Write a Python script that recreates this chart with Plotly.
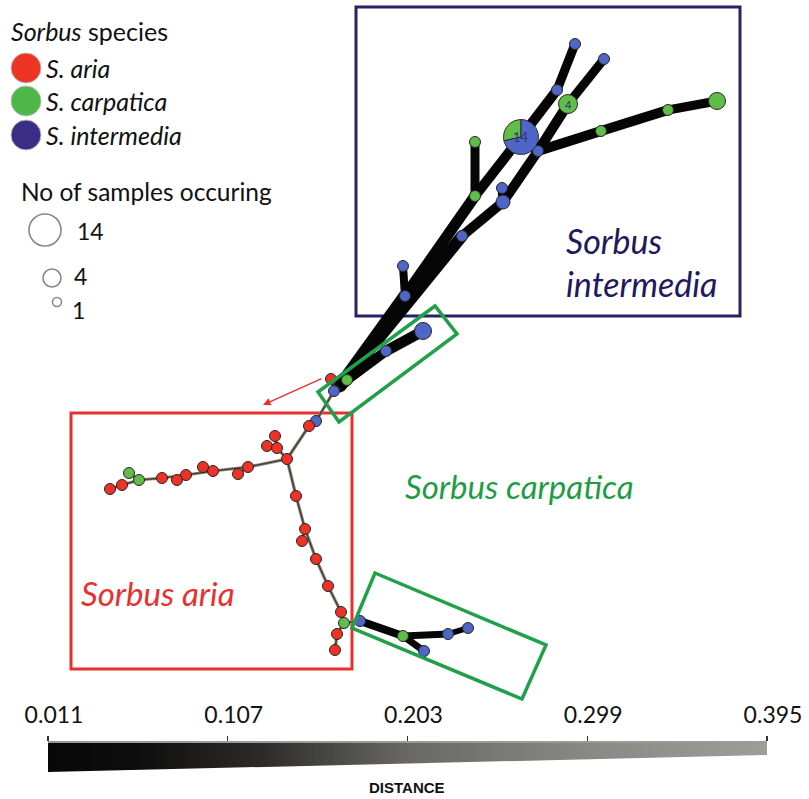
import plotly.graph_objects as go
import numpy as np

# ---------------- data ----------------
# network nodes: id, layout x, layout y (pixel layout of the network drawing), species, sample count
node_id = ["t1","t2","t3","t4","t5","t6","t7","pie","t8","t9","t10","t11","t12","t13","t14","t15",
           "g1","g2","g3","r0","b0","jt",
           "b1","a1","aj","a2","a3","a4",
           "a5","a6","a7","a8","a9","a10","a11","c1","c2","a12","a13",
           "a14","a15","a16","a17","a18","a19","c3","a20","a21",
           "b2","c4","b3","b4","b5"]
node_x = [575,604,557,568,717,668,601,521,538,475,475,502,503,462,403,405,
          423,386,347,331,334,340,
          316,309,287,275,267,277,
          248,238,213,203,186,177,162,139,129,122,110,
          296,305,302,316,328,341,344,337,335,
          360,403,448,468,424]
node_y = [44,59,90,104,101,110,131,137,151,142,196,188,202,236,266,296,
          331,351,380,379,391,386,
          421,426,459,436,446,448,
          467,474,471,467,475,480,478,480,473,485,489,
          496,529,541,559,586,612,623,634,650,
          621,636,634,628,651]
node_species = ["I","I","I","C","C","C","C","mix","I","C","C","I","I","I","I","I",
                "I","I","C","A","I","-",
                "I","A","A","A","A","A",
                "A","A","A","A","A","A","A","C","C","A","A",
                "A","A","A","A","A","A","C","A","A",
                "I","C","I","I","I"]
node_count = [1,1,1,4,3,1,1,14,1,1,1,1,2,1,1,1,
              3,1,1,1,1,0,
              1,1,1,1,1,1,
              1,1,1,1,1,1,1,1,1,1,1,
              1,1,1,1,1,1,1,1,1,
              1,1,1,1,1]
pie_values = [4, 10]           # S. carpatica, S. intermedia in the 14-sample haplotype
pie_species = ["C", "I"]

# edges: (from, to, width)
thick_edges = [("jt","t15",13),("t15","t10",11),("t10","pie",10),
               ("jt","t13",12),("t13","t12",10),("t12","t11",9),("t12","t8",10),("pie","t8",10),
               ("pie","t3",10),("t3","t1",9),
               ("t8","t4",10),("t4","t2",9),
               ("t8","t7",10),("t7","t6",10),("t6","t5",9),
               ("t9","t10",9),("t14","t15",8),
               ("g3","g2",10),("g2","g1",11),("jt","g3",11),
               ("b2","c4",8),("c4","b3",7),("b3","b4",6),("c4","b5",7)]
thin_edges = [("r0","b0"),("b0","b1"),("b1","a1"),("a1","aj"),
              ("aj","a4"),("a4","a3"),("a4","a2"),
              ("aj","a5"),("a5","a7"),("a7","a9"),("a9","a11"),("a11","c1"),("c1","a12"),("a12","a13"),
              ("a5","a6"),("a7","a8"),("a9","a10"),("c1","c2"),
              ("aj","a14"),("a14","a15"),("a15","a17"),("a17","a18"),("a18","a19"),("a19","c3"),
              ("c3","a20"),("a20","a21"),("a15","a16"),("c3","b2")]

species_names = ["S. aria", "S. carpatica", "S. intermedia"]
size_legend_counts = [14, 4, 1]

dist_ticks = [0.011, 0.107, 0.203, 0.299, 0.395]

# ---------------- styles ----------------
W, H = 809, 799
COL = {"A": "#EC3326", "C": "#5FBE48", "I": "#4E66C6"}
LEG_COL = ["#EE3524", "#4DB848", "#3B2C85"]
DIAM = {1: 11, 2: 14, 3: 17, 4: 19, 14: 35}
NAVY = "#22185E"
GREEN_T = "#1F9C45"
RED_T = "#E8302E"
FONT = "Lato, Open Sans, sans-serif"

pos = {n: (x, y) for n, x, y in zip(node_id, node_x, node_y)}

fig = go.Figure()

# thin edges
ex, ey = [], []
for a, b in thin_edges:
    ex += [pos[a][0], pos[b][0], None]
    ey += [pos[a][1], pos[b][1], None]
fig.add_trace(go.Scatter(x=ex, y=ey, mode="lines", line=dict(color="#958c82", width=3.2),
                         hoverinfo="skip", showlegend=False))
fig.add_trace(go.Scatter(x=ex, y=ey, mode="lines", line=dict(color="#4a433c", width=1.6),
                         hoverinfo="skip", showlegend=False))

# thick edges grouped by width
for w in sorted(set(e[2] for e in thick_edges)):
    ex, ey = [], []
    for a, b, ww in thick_edges:
        if ww == w:
            ex += [pos[a][0], pos[b][0], None]
            ey += [pos[a][1], pos[b][1], None]
    fig.add_trace(go.Scatter(x=ex, y=ey, mode="lines", line=dict(color="#050505", width=w),
                             hoverinfo="skip", showlegend=False))
# round joints for thick edges
jx, jy, js = [], [], []
for a, b, w in thick_edges:
    for n in (a, b):
        jx.append(pos[n][0]); jy.append(pos[n][1]); js.append(w)
fig.add_trace(go.Scatter(x=jx, y=jy, mode="markers",
                         marker=dict(color="#050505", size=js, line=dict(width=0)),
                         hoverinfo="skip", showlegend=False))

# nodes
nx, ny, nc, ns = [], [], [], []
for n, x, y, s, c in zip(node_id, node_x, node_y, node_species, node_count):
    if s in COL:
        nx.append(x); ny.append(y); nc.append(COL[s]); ns.append(DIAM[c])
fig.add_trace(go.Scatter(x=nx, y=ny, mode="markers",
                         marker=dict(color=nc, size=ns, opacity=1, line=dict(color="#262626", width=1)),
                         hoverinfo="skip", showlegend=False))

# pie node (wedges drawn counterclockwise from 12 o'clock, sized by sample counts)
px_, py_ = pos["pie"]
r = DIAM[14] / 2
total = sum(pie_values)
start = 90.0
for v, sp in zip(pie_values, pie_species):
    sweep = 360.0 * v / total
    th = np.radians(np.linspace(start, start + sweep, 60))
    wx = [px_] + list(px_ + r * np.cos(th)) + [px_]
    wy = [py_] + list(py_ - r * np.sin(th)) + [py_]
    fig.add_trace(go.Scatter(x=wx, y=wy, mode="lines", fill="toself", fillcolor=COL[sp],
                             line=dict(color="#2a2a2a", width=1), hoverinfo="skip", showlegend=False))
    start += sweep

annotations = []
annotations.append(dict(x=px_, y=py_, text="14", showarrow=False, font=dict(size=13, color="#3B2C85", family=FONT)))
annotations.append(dict(x=pos["t4"][0], y=pos["t4"][1], text="4", showarrow=False,
                        font=dict(size=11, color="#3B2C85", family=FONT)))

LEGF = 25
# legend - species
annotations.append(dict(x=9, y=31, xanchor="left", yanchor="middle", showarrow=False,
                        text="<i>Sorbus</i> species", font=dict(size=LEGF, color="#111", family=FONT)))
leg_y = [68, 101, 135]
fig.add_trace(go.Scatter(x=[26, 26, 26], y=leg_y, mode="markers",
                         marker=dict(color=LEG_COL, size=30, line=dict(color="#bbbbbb", width=1)),
                         hoverinfo="skip", showlegend=False))
for nm, yy in zip(species_names, leg_y):
    annotations.append(dict(x=44, y=yy, xanchor="left", yanchor="middle", showarrow=False,
                            text="<i>" + nm + "</i>", font=dict(size=LEGF, color="#111", family=FONT)))
# legend - sizes
annotations.append(dict(x=19, y=191, xanchor="left", yanchor="middle", showarrow=False,
                        text="No of samples occuring", font=dict(size=24.5, color="#111", family=FONT)))
sz_x = [45, 52, 57]
sz_y = [230, 278, 302]
sz_d = [32, 18, 9]
fig.add_trace(go.Scatter(x=sz_x, y=sz_y, mode="markers",
                         marker=dict(color="rgba(0,0,0,0)", size=sz_d, line=dict(color="#555", width=1.6)),
                         hoverinfo="skip", showlegend=False))
for c, xx, yy in zip(size_legend_counts, [75, 72, 70], [231, 276, 310]):
    annotations.append(dict(x=xx, y=yy, xanchor="left", yanchor="middle", showarrow=False,
                            text=str(c), font=dict(size=23, color="#111", family=FONT)))

# group labels
annotations.append(dict(x=564, y=240, xanchor="left", yanchor="middle", showarrow=False,
                        text="<i>Sorbus</i>", font=dict(size=34, color=NAVY, family=FONT)))
annotations.append(dict(x=564, y=283, xanchor="left", yanchor="middle", showarrow=False,
                        text="<i>intermedia</i>", font=dict(size=34, color=NAVY, family=FONT)))
annotations.append(dict(x=403, y=486, xanchor="left", yanchor="middle", showarrow=False,
                        text="<i>Sorbus carpatica</i>", font=dict(size=33, color=GREEN_T, family=FONT)))
annotations.append(dict(x=79, y=593, xanchor="left", yanchor="middle", showarrow=False,
                        text="<i>Sorbus aria</i>", font=dict(size=33, color=RED_T, family=FONT)))
# red arrow
annotations.append(dict(x=263, y=405, ax=323, ay=378, xref="x", yref="y", axref="x", ayref="y",
                        showarrow=True, arrowhead=2, arrowsize=1.1, arrowwidth=1.4, arrowcolor="#E8302E", text=""))
# DISTANCE
annotations.append(dict(x=407, y=787, xanchor="center", yanchor="middle", showarrow=False,
                        text="<b>DISTANCE</b>",
                        font=dict(size=15, color="#111", family="Liberation Sans Narrow, Arial Narrow, Liberation Sans")))

shapes = [
    dict(type="rect", x0=356, y0=7, x1=740, y1=316, line=dict(color="#2B2166", width=3), layer="below"),
    dict(type="rect", x0=71, y0=413, x1=352, y1=669, line=dict(color="#E8302E", width=3), layer="below"),
    dict(type="path", path="M318,392 L435,306 L457,334 L339,422 Z", line=dict(color="#1FA049", width=3.5), layer="above"),
    dict(type="path", path="M375,573 L546,645 L522,699 L352,628 Z", line=dict(color="#1FA049", width=3.5), layer="above"),
]

# distance scale bar on its own axis
xs = np.linspace(dist_ticks[0], dist_ticks[-1], 200)
fig.add_trace(go.Heatmap(x=xs, y=[0.10, 0.897], z=[xs, xs], xaxis="x2", yaxis="y2", showscale=False,
                         hoverinfo="skip",
                         colorscale=[[0, "#080808"], [0.12, "#0d0d0d"], [0.3, "#2e2c2a"], [0.5, "#6a6864"],
                                     [0.75, "#8a8884"], [1, "#9f9d98"]]))
fig.add_trace(go.Scatter(x=[dist_ticks[0], dist_ticks[-1], dist_ticks[-1], dist_ticks[0]],
                         y=[0.0, 0.586, -0.05, -0.05], fill="toself", fillcolor="white", mode="lines",
                         line=dict(width=0, color="white"), xaxis="x2", yaxis="y2",
                         hoverinfo="skip", showlegend=False))

fig.update_layout(
    template="none",
    width=W, height=H, margin=dict(l=0, r=0, t=0, b=0, pad=0, autoexpand=False),
    paper_bgcolor="white", plot_bgcolor="rgba(0,0,0,0)", showlegend=False,
    xaxis=dict(range=[0, W], visible=False, domain=[0, 1], fixedrange=True, automargin=False),
    yaxis=dict(range=[H, 0], visible=False, domain=[0, 1], fixedrange=True, automargin=False),
    xaxis2=dict(domain=[48 / W, 767 / W], range=[dist_ticks[0], dist_ticks[-1]], anchor="y2", side="top",
                showline=True, linecolor="#9a9a9a", linewidth=2, ticks="outside", ticklen=5,
                tickcolor="#333", tickwidth=1.2, tickvals=dist_ticks, ticktext=[f"{t:.3f}" for t in dist_ticks],
                tickfont=dict(size=23, color="#111", family=FONT), showgrid=False, zeroline=False,
                ticklabelstandoff=4, ticklabelshift=6, automargin=False, fixedrange=True),
    yaxis2=dict(domain=[(H - 772) / H, (H - 743) / H], range=[0, 1], anchor="x2", visible=False,
                automargin=False, showgrid=False, zeroline=False, fixedrange=True),
    annotations=annotations, shapes=shapes,
)

fig.write_html("out.html", config={"displayModeBar": False, "staticPlot": True},
               post_script="document.body.style.margin='0';document.body.style.padding='0';"
                           "document.body.style.overflow='hidden';")
